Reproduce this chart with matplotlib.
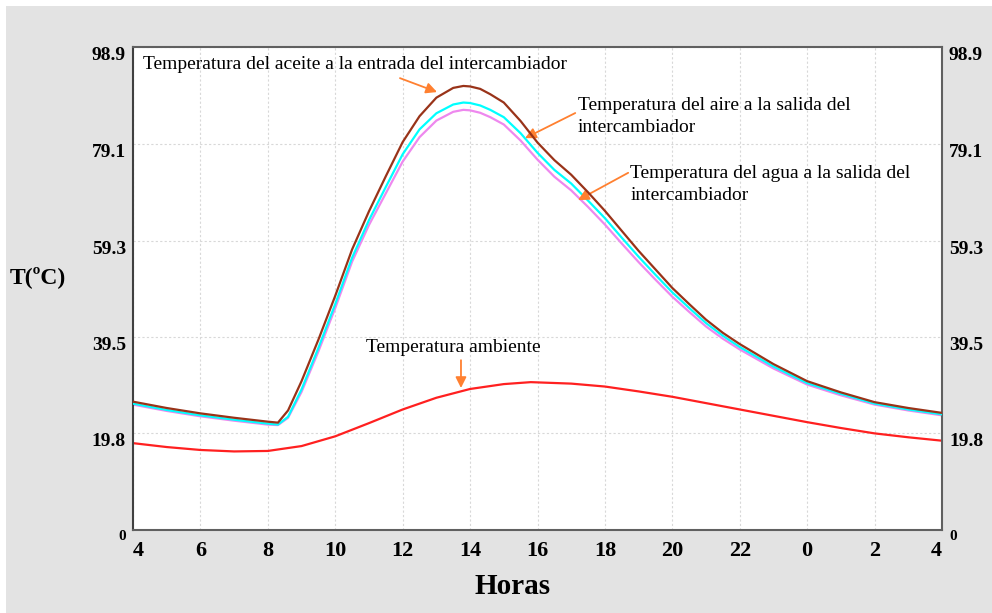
import matplotlib
matplotlib.use("Agg")
from matplotlib import pyplot as plt
from matplotlib.patches import Rectangle

# hours run from 4 h to 4 h of the next day (28 = 4 h next day)
hours_hx = [4, 5, 6, 7, 8, 8.3, 8.6, 9.0, 9.5, 10.0, 10.5, 11.0, 11.5, 12.0, 12.5,
            13.0, 13.5, 13.8, 14.0, 14.3, 14.6, 15.0, 15.5, 16.0, 16.5, 17.0, 17.5, 18.0,
            18.5, 19.0, 19.5, 20.0, 20.5, 21.0, 21.5, 22.0, 23.0, 24.0, 25.0,
            26.0, 27.0, 28.0]
t_aceite = [26.3, 25.0, 23.9, 23.0, 22.2, 22.0, 24.5, 30.5, 39.0, 48.0, 57.5,
            65.3, 72.5, 79.5, 84.8, 88.6, 90.6, 91.0, 90.9, 90.4, 89.3, 87.6, 83.8, 79.4,
            75.8, 72.8, 69.2, 65.4, 61.3, 57.2, 53.4, 49.6, 46.3, 43.1, 40.4,
            38.1, 34.0, 30.5, 28.2, 26.2, 25.0, 24.0]
t_aire = [25.9, 24.6, 23.5, 22.6, 21.8, 21.6, 23.2, 28.8, 37.3, 46.3, 55.8,
          63.5, 70.3, 77.0, 82.1, 85.4, 87.2, 87.6, 87.5, 87.0, 86.1, 84.6, 81.3, 77.3,
          73.8, 71.0, 67.5, 63.9, 59.9, 56.0, 52.3, 48.7, 45.5, 42.4, 39.8,
          37.5, 33.5, 30.1, 27.9, 25.9, 24.7, 23.7]
t_agua = [25.7, 24.4, 23.3, 22.4, 21.6, 21.5, 23.0, 28.3, 36.6, 45.5, 55.0,
          62.5, 69.0, 75.5, 80.5, 83.9, 85.7, 86.1, 86.0, 85.5, 84.6, 83.1, 79.8, 75.9,
          72.4, 69.6, 66.2, 62.6, 58.7, 54.9, 51.3, 47.8, 44.7, 41.7, 39.2,
          37.0, 33.1, 29.8, 27.6, 25.7, 24.5, 23.5]

hours_amb = [4, 5, 6, 7, 8, 9, 10, 11, 12, 13, 14, 15, 15.8, 17, 18, 19, 20,
             21, 22, 23, 24, 25, 26, 27, 28]
t_ambiente = [17.8, 17.0, 16.4, 16.1, 16.2, 17.2, 19.2, 21.9, 24.7, 27.1, 28.9,
              29.9, 30.3, 30.0, 29.4, 28.4, 27.3, 26.0, 24.7, 23.4, 22.1, 20.9,
              19.8, 19.0, 18.3]

x_ticks = [4, 6, 8, 10, 12, 14, 16, 18, 20, 22, 24, 26, 28]
x_labels = ["4", "6", "8", "10", "12", "14", "16", "18", "20", "22", "0", "2", "4"]
y_ticks = [0, 19.8, 39.5, 59.3, 79.1, 98.9]
y_labels = ["0", "19.8", "39.5", "59.3", "79.1", "98.9"]

serif = "Liberation Serif"
orange = "#ff8030"

fig = plt.figure(figsize=(9.92, 6.13), dpi=100, facecolor="white")
fig.patches.append(Rectangle((6 / 992, 0), 1, 1 - 6 / 613, transform=fig.transFigure,
                             facecolor="#e3e3e3", edgecolor="none", zorder=-10))
ax = fig.add_axes([133 / 992, 1 - 530 / 613, 809 / 992, (530 - 47.4) / 613])
ax.set_facecolor("white")

ax.plot(hours_hx, t_aceite, color="#993319", lw=1.6, zorder=4)
ax.plot(hours_hx, t_aire, color="#00ffff", lw=1.6, zorder=3)
ax.plot(hours_hx, t_agua, color="#ee88ee", lw=1.6, zorder=2)
ax.plot(hours_amb, t_ambiente, color="#ff2020", lw=1.6, zorder=2)

ax.set_xlim(4, 28)
ax.set_ylim(0, 98.9)
ax.set_xticks(x_ticks)
ax.set_xticklabels(x_labels)
ax.set_yticks(y_ticks)
ax.set_yticklabels(y_labels)
ax.tick_params(axis="both", length=0)
ax.tick_params(axis="x", pad=8, labelsize=16)
ax.tick_params(axis="y", pad=5, labelsize=14, labelright=True)
for lab in ax.get_xticklabels():
    lab.set_fontfamily(serif)
    lab.set_fontweight("bold")
ax.get_xticklabels()[0].set_horizontalalignment("left")
ax.get_xticklabels()[-1].set_horizontalalignment("right")
for t in ax.yaxis.get_major_ticks():
    for lab in (t.label1, t.label2):
        lab.set_fontfamily(serif)
        lab.set_fontweight("bold")
        lab.set_verticalalignment("top")
ax.yaxis.get_major_ticks()[0].label1.set_fontsize(11)
ax.yaxis.get_major_ticks()[0].label2.set_fontsize(11)

ax.grid(True, color="#d8d8d8", linestyle=(0, (2, 2)), lw=0.8)
for side in ax.spines:
    ax.spines[side].set_color("#606060")
    ax.spines[side].set_linewidth(1.5)
ax.spines["left"].set_color("#404040")

fig.text(38 / 992, 1 - 277 / 613, "T(ºC)", family=serif, weight="bold", fontsize=17,
         ha="center", va="center")
fig.text(513 / 992, 1 - 587 / 613, "Horas", family=serif, weight="bold", fontsize=21,
         ha="center", va="center")

txt = dict(family=serif, fontsize=14, color="black", linespacing=1.35)
arrow = dict(arrowstyle="-|>", color=orange, lw=1.3, mutation_scale=16,
             shrinkA=0, shrinkB=0)

ax.text(4.30, 95.3, "Temperatura del aceite a la entrada del intercambiador",
        ha="left", va="center", **txt)
ax.annotate("", xy=(13.02, 89.75), xytext=(11.92, 92.6), arrowprops=arrow)

ax.text(17.2, 84.7, "Temperatura del aire a la salida del\nintercambiador",
        ha="left", va="center", **txt)
ax.annotate("", xy=(15.63, 80.3), xytext=(17.12, 85.45), arrowprops=arrow)

ax.text(18.75, 70.8, "Temperatura del agua a la salida del\nintercambiador",
        ha="left", va="center", **txt)
ax.annotate("", xy=(17.2, 67.6), xytext=(18.69, 73.2), arrowprops=arrow)

ax.text(10.91, 37.5, "Temperatura ambiente", ha="left", va="center", **txt)
ax.annotate("", xy=(13.73, 29.1), xytext=(13.73, 34.8), arrowprops=arrow)

fig.savefig("out.png", dpi=100, facecolor=fig.get_facecolor())
